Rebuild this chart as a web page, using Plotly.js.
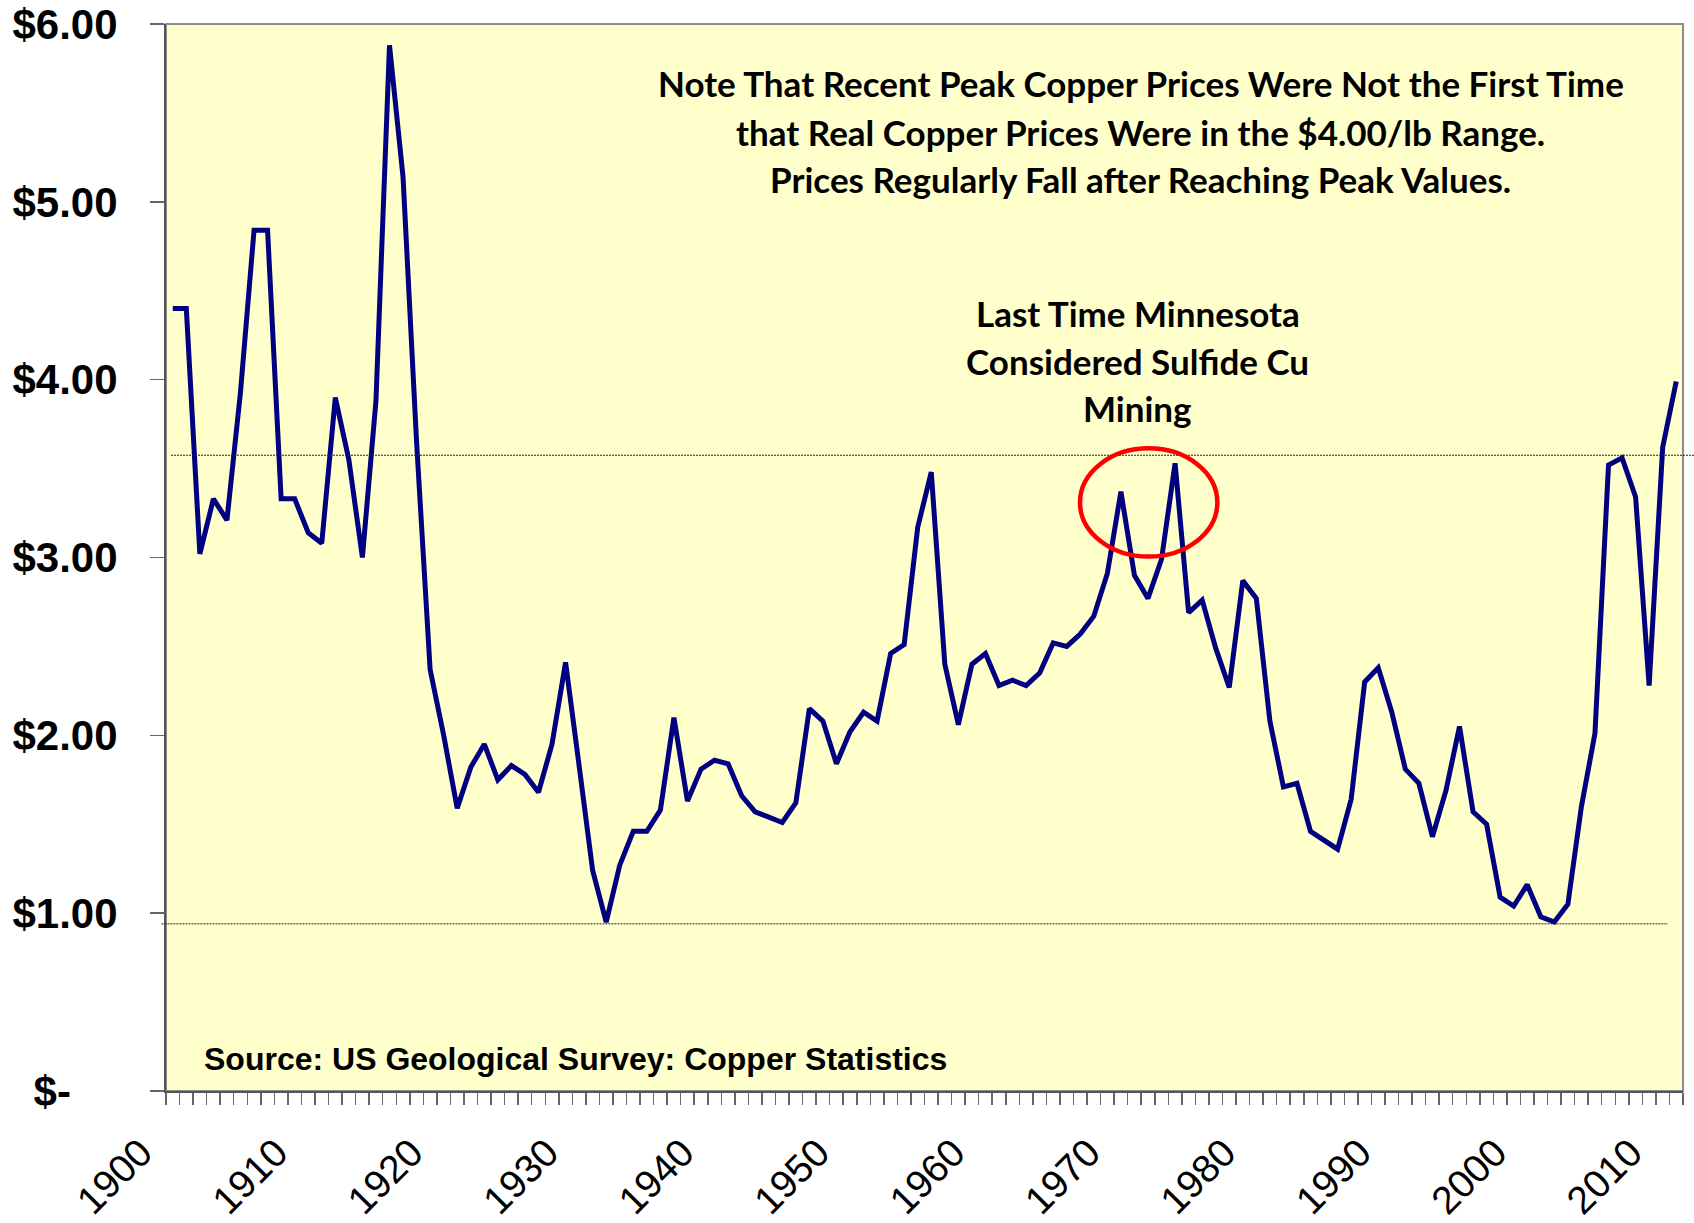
<!DOCTYPE html>
<html>
<head>
<meta charset="utf-8">
<script src="https://cdn.plot.ly/plotly-3.0.1.min.js"></script>
<style>
  html, body { margin: 0; padding: 0; background: #ffffff; }
  #chart { width: 1694px; height: 1223px; }
</style>
</head>
<body>
<div id="chart"></div>
<script>
// ---- Data ----
const years = [];
for (let y = 1900; y <= 2011; y++) years.push(y);

const realCopperPrice = [
  4.40, 4.40, 3.02, 3.33, 3.21, 3.93, 4.84, 4.84, 3.33, 3.33,   // 1900-1909
  3.14, 3.08, 3.90, 3.55, 3.00, 3.88, 5.88, 5.14, 3.65, 2.37,   // 1910-1919
  2.00, 1.59, 1.82, 1.95, 1.75, 1.83, 1.78, 1.68, 1.95, 2.41,   // 1920-1929
  1.83, 1.24, 0.95, 1.27, 1.46, 1.46, 1.58, 2.10, 1.63, 1.81,   // 1930-1939
  1.86, 1.84, 1.66, 1.57, 1.54, 1.51, 1.62, 2.15, 2.08, 1.84,   // 1940-1949
  2.02, 2.13, 2.08, 2.46, 2.51, 3.17, 3.48, 2.40, 2.06, 2.40,   // 1950-1959
  2.46, 2.28, 2.31, 2.28, 2.35, 2.52, 2.50, 2.57, 2.67, 2.91,   // 1960-1969
  3.37, 2.90, 2.77, 2.99, 3.53, 2.69, 2.76, 2.49, 2.27, 2.87,   // 1970-1979
  2.77, 2.08, 1.71, 1.73, 1.46, 1.41, 1.36, 1.64, 2.30, 2.38,   // 1980-1989
  2.13, 1.81, 1.73, 1.43, 1.69, 2.05, 1.57, 1.50, 1.09, 1.04,   // 1990-1999
  1.16, 0.98, 0.95, 1.05, 1.60, 2.01, 3.52, 3.56, 3.34, 2.28,   // 2000-2009
  3.62, 3.99                                                    // 2010-2011
];

const xTickYears = [1900, 1910, 1920, 1930, 1940, 1950, 1960, 1970, 1980, 1990, 2000, 2010];
const xTickLabels = ["1900", "1910", "1920", "1930", "1940", "1950", "1960", "1970", "1980", "1990", "2000", "2010"];
const yTickValues = [0, 1, 2, 3, 4, 5, 6];
const yTickLabels = ["$-\u00a0\u00a0\u00a0\u00a0", "$1.00", "$2.00", "$3.00", "$4.00", "$5.00", "$6.00"];

const highLine = 3.575;
const lowLine = 0.94;

const noteLines = [
  "Note That Recent Peak Copper Prices Were Not the First Time",
  "that Real Copper Prices Were in the $4.00/lb Range.",
  "Prices Regularly Fall after Reaching Peak Values."
];
const mnLines = ["Last Time Minnesota", "Considered Sulfide Cu", "Mining"];
const sourceText = "Source: US Geological Survey: Copper Statistics";

// ---- Chart ----
const trace = {
  x: years,
  y: realCopperPrice,
  type: 'scatter',
  mode: 'lines',
  line: { color: '#000080', width: 5 },
  hoverinfo: 'x+y'
};

const noteFont = { family: 'Lato, "Open Sans", sans-serif', size: 35, color: '#000000', weight: 'bold' };
const noteY = [0.9445, 0.899, 0.8544];
const mnY = [0.7289, 0.6843, 0.6397];

const annotations = [];
noteLines.forEach((t, i) => annotations.push({
  xref: 'paper', yref: 'paper', x: 0.6427, y: noteY[i],
  xanchor: 'center', yanchor: 'middle', showarrow: false,
  text: '<b>' + t + '</b>', font: noteFont
}));
mnLines.forEach((t, i) => annotations.push({
  xref: 'paper', yref: 'paper', x: 0.6407, y: mnY[i],
  xanchor: 'center', yanchor: 'middle', showarrow: false,
  text: '<b>' + t + '</b>', font: noteFont
}));
annotations.push({
  xref: 'paper', yref: 'paper', x: 0.024, y: 0.030,
  xanchor: 'left', yanchor: 'middle', showarrow: false,
  text: '<b>' + sourceText + '</b>',
  font: { family: '"Liberation Sans", Arial, sans-serif', size: 32, color: '#000000' }
});

const shapes = [
  // plot area border
  { type: 'rect', xref: 'paper', yref: 'paper', x0: 0, x1: 1, y0: 0, y1: 1,
    line: { color: '#8c8c8c', width: 2 }, layer: 'below' },
  // upper dotted reference line
  { type: 'line', xref: 'paper', yref: 'y', x0: 0.0033, x1: 1.0086, y0: highLine, y1: highLine,
    line: { color: '#222222', width: 1, dash: '2px,1px' } },
  // lower dotted reference line
  { type: 'line', xref: 'paper', yref: 'y', x0: -0.003, x1: 0.990, y0: lowLine, y1: lowLine,
    line: { color: '#222222', width: 1, dash: '2px,1px' } },
  // red ellipse
  { type: 'circle', xref: 'x', yref: 'y', x0: 1966.98, x1: 1977.12, y0: 3.005, y1: 3.614,
    line: { color: '#ff0000', width: 4.5 } }
];

const layout = {
  width: 1694, height: 1223,
  margin: { l: 166, r: 11, t: 24, b: 132, pad: 0 },
  paper_bgcolor: '#ffffff',
  plot_bgcolor: '#ffffcc',
  showlegend: false,
  xaxis: {
    type: 'linear',
    range: [1899.5, 2011.5],
    tickvals: xTickYears,
    ticktext: xTickLabels,
    tickangle: -45,
    ticks: 'outside', ticklen: 12, tickcolor: 'rgba(0,0,0,0)',
    ticklabelshift: -32,
    ticklabelstandoff: 9,
    minor: { ticks: 'outside', ticklen: 12, tickcolor: '#666666', tickwidth: 1.5,
             tick0: 1899.5, dtick: 1, showgrid: false },
    showgrid: false, zeroline: false,
    showline: true, linecolor: '#555555', linewidth: 2,
    tickfont: { family: '"Liberation Sans", Arial, sans-serif', size: 39, color: '#000000' },
    fixedrange: true
  },
  yaxis: {
    range: [0, 6],
    tickvals: yTickValues,
    ticktext: yTickLabels,
    ticks: 'outside', ticklen: 14, tickcolor: '#666666', tickwidth: 1.5,
    ticklabelstandoff: 24,
    showgrid: false, zeroline: false,
    showline: true, linecolor: '#555555', linewidth: 2,
    tickfont: { family: '"Liberation Sans", Arial, sans-serif', size: 42, color: '#000000', weight: 'bold' },
    fixedrange: true
  },
  annotations: annotations,
  shapes: shapes
};

Plotly.newPlot('chart', [trace], layout, { displayModeBar: false, staticPlot: true });
</script>
</body>
</html>
